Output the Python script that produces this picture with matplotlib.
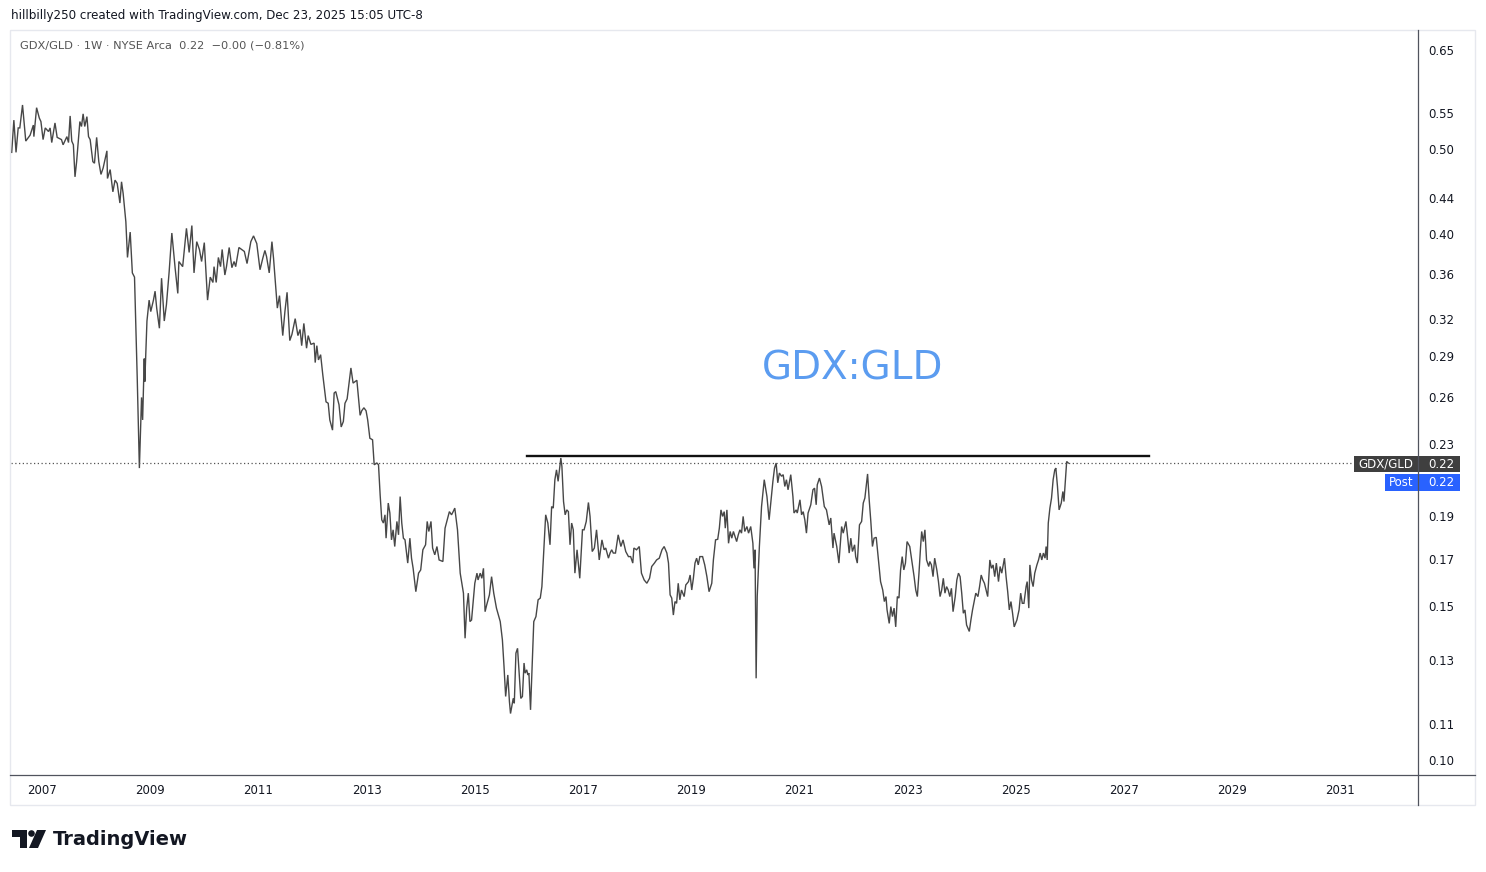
import numpy as np
import matplotlib.pyplot as plt
from matplotlib.patches import Rectangle, Polygon, Circle
from matplotlib.transforms import Affine2D
from matplotlib.ticker import FixedLocator, NullLocator, FormatStrFormatter

# weekly GDX/GLD close (decimal years)
year = [
    2006.44, 2006.48, 2006.52, 2006.56, 2006.59, 2006.64, 2006.70, 2006.78, 2006.84, 2006.85,
    2006.90, 2006.95, 2006.98, 2007.02, 2007.06, 2007.12, 2007.15, 2007.18, 2007.24, 2007.28,
    2007.36, 2007.39, 2007.46, 2007.49, 2007.52, 2007.55, 2007.58, 2007.61, 2007.64, 2007.70,
    2007.73, 2007.76, 2007.79, 2007.83, 2007.86, 2007.89, 2007.94, 2007.97, 2008.01, 2008.05,
    2008.09, 2008.13, 2008.20, 2008.21, 2008.26, 2008.31, 2008.35, 2008.39, 2008.44, 2008.47,
    2008.50, 2008.55, 2008.58, 2008.63, 2008.67, 2008.71, 2008.76, 2008.80, 2008.84, 2008.86,
    2008.89, 2008.90, 2008.94, 2008.98, 2009.01, 2009.06, 2009.09, 2009.12, 2009.17, 2009.21,
    2009.26, 2009.30, 2009.35, 2009.40, 2009.46, 2009.51, 2009.53, 2009.60, 2009.67, 2009.72,
    2009.77, 2009.81, 2009.86, 2009.91, 2009.95, 2010.00, 2010.06, 2010.11, 2010.16, 2010.18,
    2010.22, 2010.26, 2010.30, 2010.33, 2010.38, 2010.41, 2010.46, 2010.51, 2010.55, 2010.58,
    2010.64, 2010.69, 2010.74, 2010.79, 2010.86, 2010.91, 2010.97, 2011.03, 2011.08, 2011.12,
    2011.15, 2011.20, 2011.25, 2011.28, 2011.35, 2011.39, 2011.45, 2011.49, 2011.53, 2011.58,
    2011.62, 2011.68, 2011.73, 2011.77, 2011.80, 2011.84, 2011.89, 2011.92, 2011.97, 2012.03,
    2012.05, 2012.08, 2012.11, 2012.15, 2012.19, 2012.25, 2012.29, 2012.32, 2012.37, 2012.40,
    2012.43, 2012.49, 2012.53, 2012.57, 2012.60, 2012.64, 2012.71, 2012.75, 2012.82, 2012.85,
    2012.88, 2012.91, 2012.95, 2012.99, 2013.02, 2013.06, 2013.11, 2013.14, 2013.19, 2013.22,
    2013.25, 2013.28, 2013.31, 2013.34, 2013.36, 2013.40, 2013.43, 2013.46, 2013.49, 2013.52,
    2013.56, 2013.59, 2013.62, 2013.65, 2013.68, 2013.71, 2013.76, 2013.80, 2013.83, 2013.86,
    2013.91, 2013.96, 2014.00, 2014.04, 2014.09, 2014.12, 2014.15, 2014.19, 2014.22, 2014.26,
    2014.30, 2014.34, 2014.41, 2014.45, 2014.49, 2014.53, 2014.57, 2014.60, 2014.63, 2014.68,
    2014.73, 2014.79, 2014.82, 2014.85, 2014.88, 2014.91, 2014.94, 2015.00, 2015.04, 2015.06,
    2015.10, 2015.13, 2015.16, 2015.19, 2015.22, 2015.27, 2015.31, 2015.35, 2015.40, 2015.47,
    2015.51, 2015.54, 2015.57, 2015.61, 2015.64, 2015.66, 2015.71, 2015.73, 2015.76, 2015.79,
    2015.82, 2015.85, 2015.88, 2015.91, 2015.93, 2015.96, 2015.98, 2016.00, 2016.03, 2016.06,
    2016.09, 2016.13, 2016.17, 2016.21, 2016.24, 2016.28, 2016.31, 2016.35, 2016.39, 2016.42,
    2016.45, 2016.48, 2016.51, 2016.54, 2016.59, 2016.61, 2016.64, 2016.67, 2016.70, 2016.73,
    2016.76, 2016.79, 2016.82, 2016.85, 2016.89, 2016.94, 2016.99, 2017.02, 2017.06, 2017.10,
    2017.13, 2017.17, 2017.21, 2017.25, 2017.30, 2017.35, 2017.39, 2017.42, 2017.47, 2017.50,
    2017.53, 2017.56, 2017.60, 2017.65, 2017.70, 2017.74, 2017.79, 2017.84, 2017.88, 2017.92,
    2017.94, 2017.99, 2018.04, 2018.08, 2018.13, 2018.18, 2018.23, 2018.27, 2018.32, 2018.36,
    2018.41, 2018.46, 2018.50, 2018.55, 2018.58, 2018.61, 2018.64, 2018.67, 2018.70, 2018.73,
    2018.76, 2018.79, 2018.82, 2018.87, 2018.90, 2018.95, 2018.98, 2019.01, 2019.04, 2019.07,
    2019.10, 2019.13, 2019.16, 2019.21, 2019.25, 2019.29, 2019.33, 2019.38, 2019.41, 2019.45,
    2019.49, 2019.52, 2019.55, 2019.58, 2019.61, 2019.63, 2019.66, 2019.69, 2019.72, 2019.75,
    2019.78, 2019.81, 2019.84, 2019.87, 2019.90, 2019.93, 2019.96, 2019.99, 2020.03, 2020.06,
    2020.10, 2020.14, 2020.16, 2020.18, 2020.20, 2020.22, 2020.26, 2020.30, 2020.35, 2020.40,
    2020.44, 2020.47, 2020.51, 2020.54, 2020.57, 2020.60, 2020.63, 2020.67, 2020.70, 2020.73,
    2020.76, 2020.79, 2020.84, 2020.88, 2020.90, 2020.94, 2020.96, 2021.01, 2021.04, 2021.07,
    2021.10, 2021.13, 2021.16, 2021.21, 2021.25, 2021.28, 2021.31, 2021.33, 2021.37, 2021.41,
    2021.46, 2021.50, 2021.55, 2021.58, 2021.62, 2021.64, 2021.69, 2021.73, 2021.78, 2021.81,
    2021.86, 2021.89, 2021.92, 2021.95, 2021.98, 2022.02, 2022.04, 2022.07, 2022.11, 2022.15,
    2022.18, 2022.21, 2022.26, 2022.29, 2022.32, 2022.35, 2022.38, 2022.42, 2022.46, 2022.50,
    2022.54, 2022.57, 2022.60, 2022.62, 2022.66, 2022.69, 2022.72, 2022.75, 2022.78, 2022.81,
    2022.84, 2022.87, 2022.90, 2022.93, 2022.96, 2022.99, 2023.04, 2023.08, 2023.12, 2023.15,
    2023.18, 2023.21, 2023.24, 2023.26, 2023.29, 2023.32, 2023.35, 2023.39, 2023.41, 2023.44,
    2023.47, 2023.50, 2023.54, 2023.57, 2023.60, 2023.63, 2023.66, 2023.69, 2023.72, 2023.75,
    2023.78, 2023.81, 2023.84, 2023.88, 2023.91, 2023.94, 2023.97, 2024.00, 2024.03, 2024.06,
    2024.09, 2024.14, 2024.17, 2024.20, 2024.23, 2024.26, 2024.30, 2024.33, 2024.36, 2024.39,
    2024.42, 2024.45, 2024.48, 2024.52, 2024.55, 2024.58, 2024.61, 2024.64, 2024.68, 2024.71,
    2024.74, 2024.79, 2024.82, 2024.85, 2024.88, 2024.91, 2024.94, 2024.97, 2025.02, 2025.06,
    2025.09, 2025.12, 2025.15, 2025.19, 2025.21, 2025.24, 2025.26, 2025.29, 2025.32, 2025.35,
    2025.39, 2025.42, 2025.45, 2025.48, 2025.51, 2025.54, 2025.56, 2025.58, 2025.60, 2025.63,
    2025.66, 2025.69, 2025.72, 2025.74, 2025.77, 2025.80, 2025.84, 2025.87, 2025.89, 2025.92,
    2025.94, 2025.97,
]
ratio = [
    .496, .540, .496, .529, .529, .562, .511, .519, .533, .517,
    .558, .543, .538, .513, .529, .524, .529, .509, .536, .516,
    .513, .506, .517, .509, .546, .511, .506, .465, .484, .538,
    .531, .549, .531, .545, .517, .513, .484, .482, .516, .484,
    .468, .476, .498, .463, .474, .447, .461, .457, .434, .459,
    .445, .413, .376, .402, .361, .357, .274, .2158, .260, .245,
    .288, .271, .318, .336, .326, .336, .344, .329, .312, .356,
    .318, .332, .362, .401, .366, .342, .372, .367, .406, .381,
    .409, .361, .392, .384, .372, .391, .336, .357, .352, .367,
    .352, .376, .367, .384, .359, .367, .386, .366, .372, .367,
    .386, .384, .382, .370, .392, .398, .390, .364, .375, .383,
    .377, .361, .392, .375, .329, .340, .306, .326, .343, .302,
    .307, .320, .306, .311, .298, .316, .296, .306, .299, .300,
    .285, .298, .287, .291, .276, .257, .256, .245, .2385, .263,
    .264, .255, .2405, .244, .256, .259, .281, .270, .272, .260,
    .248, .251, .253, .251, .245, .2335, .2325, .2177, .2187, .2177,
    .2012, .1883, .1867, .1908, .1794, .1968, .1917, .1786, .1834, .1755,
    .1875, .1810, .2002, .1867, .1794, .1786, .1680, .1794, .1702, .1657,
    .1558, .1636, .1650, .1740, .1763, .1875, .1826, .1875, .1748, .1717,
    .1755, .1694, .1687, .1842, .1883, .1924, .1908, .1924, .1942, .1834,
    .1636, .1552, .1378, .1492, .1552, .1440, .1446, .1593, .1636, .1607,
    .1636, .1614, .1657, .1478, .1505, .1545, .1621, .1552, .1492, .1440,
    .1372, .1279, .1182, .1251, .1166, .1130, .1176, .1161, .1325, .1342,
    .1257, .1176, .1182, .1291, .1257, .1268, .1251, .1257, .1141, .1285,
    .1440, .1459, .1525, .1532, .1579, .1755, .1908, .1867, .1763, .1950,
    .1942, .2093, .2148, .2084, .2216, .2167, .1976, .1908, .1933, .1924,
    .1763, .1867, .1834, .1636, .1740, .1614, .1834, .1834, .1875, .1971,
    .1900, .1732, .1748, .1834, .1694, .1786, .1740, .1748, .1702, .1725,
    .1740, .1725, .1725, .1810, .1755, .1786, .1732, .1709, .1709, .1680,
    .1748, .1740, .1755, .1636, .1607, .1593, .1614, .1665, .1680, .1694,
    .1702, .1740, .1755, .1725, .1680, .1545, .1532, .1465, .1518, .1511,
    .1593, .1525, .1565, .1538, .1586, .1600, .1628, .1565, .1614, .1680,
    .1702, .1672, .1709, .1709, .1672, .1621, .1558, .1593, .1694, .1786,
    .1789, .1842, .1933, .1900, .1924, .1842, .1933, .1770, .1826, .1794,
    .1826, .1802, .1778, .1810, .1834, .1818, .1900, .1826, .1850, .1818,
    .1850, .1770, .1657, .1740, .1240, .1538, .1755, .1950, .2093, .2002,
    .1883, .1968, .2084, .2158, .2187, .2076, .2130, .2112, .2121, .2056,
    .2093, .2038, .2121, .2002, .1917, .1933, .1917, .1985, .1908, .1924,
    .1883, .1818, .1917, .1959, .2038, .2047, .1959, .2065, .2102, .2056,
    .1950, .1933, .1858, .1892, .1748, .1818, .1755, .1680, .1850, .1818,
    .1875, .1802, .1725, .1794, .1732, .1763, .1709, .1680, .1858, .1875,
    .1968, .1994, .2125, .1985, .1875, .1755, .1794, .1798, .1694, .1600,
    .1565, .1518, .1538, .1485, .1433, .1498, .1459, .1492, .1420, .1538,
    .1532, .1650, .1709, .1650, .1680, .1778, .1755, .1687, .1621, .1565,
    .1538, .1636, .1755, .1826, .1778, .1834, .1694, .1665, .1687, .1672,
    .1621, .1702, .1650, .1600, .1538, .1565, .1614, .1552, .1579, .1565,
    .1538, .1572, .1478, .1538, .1607, .1636, .1621, .1552, .1472, .1485,
    .1427, .1403, .1446, .1485, .1518, .1552, .1538, .1579, .1628, .1607,
    .1593, .1565, .1538, .1694, .1657, .1672, .1621, .1680, .1600, .1665,
    .1636, .1702, .1621, .1558, .1485, .1518, .1472, .1420, .1446, .1485,
    .1552, .1511, .1511, .1579, .1600, .1492, .1672, .1607, .1579, .1636,
    .1672, .1694, .1725, .1694, .1725, .1702, .1755, .1694, .1867, .1942,
    .1994, .2093, .2148, .2158, .2056, .1933, .1968, .2029, .1976, .2102,
    .2196, .2187,
]

last_close = 0.2185
res_level = 0.2228
res_span = [2015.96, 2027.46]

price_ticks = [0.10, 0.11, 0.13, 0.15, 0.17, 0.19, 0.23, 0.26, 0.29, 0.32,
               0.36, 0.40, 0.44, 0.50, 0.55, 0.65]
year_ticks = list(range(2007, 2032, 2))

W, H = 1486, 872
fig = plt.figure(figsize=(W / 100, H / 100), dpi=100)
fig.patch.set_facecolor('white')
pix = Affine2D().scale(1, -1).translate(0, H)   # pixel coords, origin top-left

def fx(x):
    return x / W

def fy(y):
    return 1 - y / H

ax = fig.add_axes([fx(11), fy(775), (1418 - 11) / W, (775 - 31) / H])
ax.set_yscale('log')
ax.set_xlim(2006.427, 2032.434)
ax.set_ylim(0.0961, 0.683)
for s in ax.spines.values():
    s.set_visible(False)

ax.plot(year, ratio, color='#474747', lw=1.0, solid_joinstyle='miter')
ax.axhline(last_close, color='#555555', lw=0.9, ls=(0, (1, 2)))
ax.plot(res_span, [res_level, res_level], color='#111111', lw=1.7)

ax.text(0.598, 0.547, 'GDX:GLD', transform=ax.transAxes, ha='center', va='center',
        fontsize=28, color='#5b9cf0')

ax.yaxis.tick_right()
ax.yaxis.set_major_locator(FixedLocator(price_ticks))
ax.yaxis.set_minor_locator(NullLocator())
ax.yaxis.set_major_formatter(FormatStrFormatter('%.2f'))
ax.tick_params(axis='y', length=0, pad=7.5, labelsize=8.5, labelcolor='#131722')
ax.set_xticks(year_ticks)
ax.set_xticklabels([str(y) for y in year_ticks])
ax.tick_params(axis='x', length=0, pad=6.5, labelsize=8.5, labelcolor='#131722')

# chart frame and axis separators
fig.add_artist(Rectangle((10, 30), 1465, 775, transform=pix, fill=False,
                         edgecolor='#e6e8ee', lw=1))
fig.add_artist(plt.Line2D([1418, 1418], [30, 805], transform=pix, color='#50535e', lw=0.9))
fig.add_artist(plt.Line2D([10, 1475], [775, 775], transform=pix, color='#50535e', lw=0.9))

# last price labels
def tag(x0, x1, y0, y1, color, text, tx, ha):
    fig.add_artist(Rectangle((x0, y0), x1 - x0, y1 - y0, transform=pix,
                             facecolor=color, edgecolor='none'))
    fig.text(fx(tx), fy((y0 + y1) / 2), text, ha=ha, va='center',
             fontsize=8.5, color='white')

tag(1354, 1418, 456, 472, '#3f3f3f', 'GDX/GLD', 1386, 'center')
tag(1418, 1460, 456, 472, '#3f3f3f', '0.22', 1428, 'left')
tag(1385, 1418, 474, 491, '#2962ff', 'Post', 1401, 'center')
tag(1418, 1460, 474, 491, '#2962ff', '0.22', 1428, 'left')

fig.text(fx(11), fy(16), 'hillbilly250 created with TradingView.com, Dec 23, 2025 15:05 UTC-8',
         ha='left', va='center', fontsize=8.6, color='#131722')
fig.text(fx(20), fy(46), 'GDX/GLD · 1W · NYSE Arca  0.22  \u22120.00 (\u22120.81%)',
         ha='left', va='center', fontsize=8.2, color='#555555')

# TradingView logo
fig.add_artist(Polygon([(12, 830), (27, 830), (27, 848), (20, 848), (20, 837), (12, 837)],
                       closed=True, transform=pix, facecolor='#131722', edgecolor='none'))
fig.add_artist(Circle((31.5, 833.5), 3.3, transform=pix, facecolor='#131722', edgecolor='none'))
fig.add_artist(Polygon([(37, 830), (46, 830), (38, 848), (29, 848)], closed=True,
                       transform=pix, facecolor='#131722', edgecolor='none'))
fig.text(fx(53), fy(839), 'TradingView', ha='left', va='center', fontsize=14,
         fontweight='bold', color='#131722')

fig.savefig('out.png', dpi=100)
